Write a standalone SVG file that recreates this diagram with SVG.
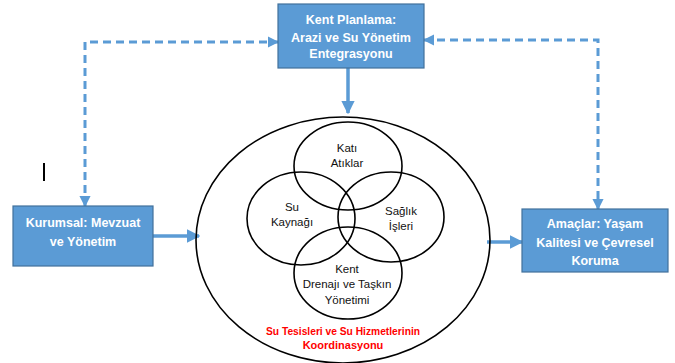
<svg xmlns="http://www.w3.org/2000/svg" width="675" height="363" viewBox="0 0 675 363">
<defs>
<style>
.box{fill:#5B9BD5;stroke:#41719C;stroke-width:1.2}
.bt{font-family:"Liberation Sans",Arial,sans-serif;font-weight:bold;font-size:12.5px;fill:#fff;text-anchor:middle}
.ct{font-family:"Liberation Sans",Arial,sans-serif;font-size:11.5px;fill:#111;text-anchor:middle}
.rt{font-family:"Liberation Sans",Arial,sans-serif;font-weight:bold;font-size:11px;fill:#FF0000;text-anchor:middle}
.ring{fill:none;stroke:#000;stroke-width:1.6}
.solid{stroke:#5B9BD5;stroke-width:3.5;fill:none}
.dash{stroke:#5B9BD5;stroke-width:3;fill:none;stroke-dasharray:8 5}
</style>
<marker id="ah" viewBox="0 0 10 10" refX="9" refY="5" markerWidth="3.8" markerHeight="3.8" orient="auto" markerUnits="strokeWidth">
<path d="M0,0 L10,5 L0,10 z" fill="#5B9BD5"/>
</marker>
<marker id="ahd" viewBox="0 0 10 10" refX="9" refY="5" markerWidth="3.8" markerHeight="3.8" orient="auto-start-reverse" markerUnits="strokeWidth">
<path d="M0,0 L10,5 L0,10 z" fill="#5B9BD5"/>
</marker>
</defs>
<rect width="675" height="363" fill="#fff"/>

<g id="connectors">
<line class="solid" x1="348" y1="68" x2="348" y2="113" marker-end="url(#ah)"/>
<line class="solid" x1="153" y1="236" x2="199" y2="236" marker-end="url(#ah)"/>
<line class="solid" x1="487" y1="242" x2="522" y2="242" marker-end="url(#ah)"/>
<polyline class="dash" points="85,206 85,42 278,42" marker-start="url(#ahd)" marker-end="url(#ahd)"/>
<polyline class="dash" points="424,40 598,40 598,209" marker-start="url(#ahd)" marker-end="url(#ahd)"/>
</g>

<g id="coordination">
<ellipse class="ring" cx="343" cy="240" rx="147" ry="123"/>
<text class="rt" x="343" y="335" textLength="154" lengthAdjust="spacingAndGlyphs">Su Tesisleri  ve Su Hizmetlerinin</text>
<text class="rt" x="343" y="349">Koordinasyonu</text>
</g>

<g id="kati">
<ellipse class="ring" cx="348" cy="166" rx="54" ry="44"/>
<text class="ct" x="347" y="152">Katı</text>
<text class="ct" x="347" y="167">Atıklar</text>
</g>
<g id="su">
<ellipse class="ring" cx="301" cy="218.5" rx="54" ry="46.5"/>
<text class="ct" x="292" y="211">Su</text>
<text class="ct" x="292" y="226">Kaynağı</text>
</g>
<g id="saglik">
<ellipse class="ring" cx="391" cy="217" rx="53" ry="45"/>
<text class="ct" x="401" y="215">Sağlık</text>
<text class="ct" x="401" y="230">İşleri</text>
</g>
<g id="kent">
<ellipse class="ring" cx="348" cy="273" rx="54" ry="46"/>
<text class="ct" x="347" y="273">Kent</text>
<text class="ct" x="347" y="288">Drenajı ve Taşkın</text>
<text class="ct" x="347" y="304">Yönetimi</text>
</g>

<g id="top-box">
<rect class="box" x="278" y="4" width="146" height="64"/>
<text class="bt" x="351" y="24">Kent Planlama:</text>
<text class="bt" x="351" y="42">Arazi ve Su Yönetim</text>
<text class="bt" x="351" y="58">Entegrasyonu</text>
</g>
<g id="left-box">
<rect class="box" x="13" y="206" width="140" height="60"/>
<text class="bt" x="83" y="227">Kurumsal: Mevzuat</text>
<text class="bt" x="83" y="246">ve Yönetim</text>
</g>
<g id="right-box">
<rect class="box" x="522" y="209" width="146" height="63"/>
<text class="bt" x="595" y="228">Amaçlar: Yaşam</text>
<text class="bt" x="595" y="247">Kalitesi ve Çevresel</text>
<text class="bt" x="595" y="265">Koruma</text>
</g>
<line x1="44" y1="163" x2="44" y2="181" stroke="#000" stroke-width="2"/>
</svg>
